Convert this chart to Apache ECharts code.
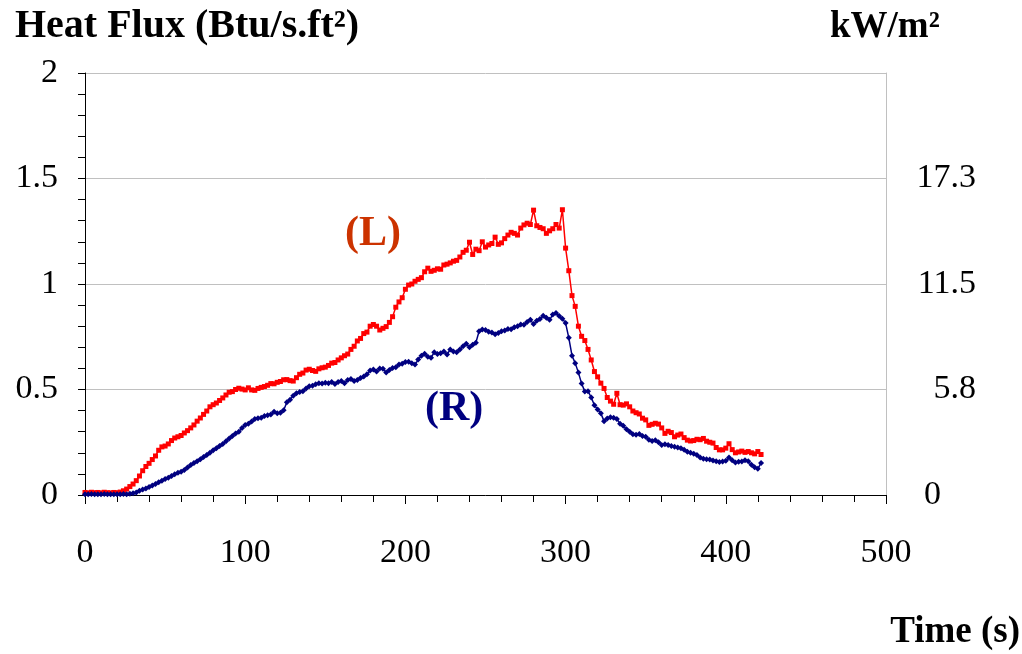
<!DOCTYPE html>
<html>
<head>
<meta charset="utf-8">
<script src="https://cdn.jsdelivr.net/npm/echarts@6.0.0/dist/echarts.min.js"></script>
<style>
html,body{margin:0;padding:0;background:#fff;}
#chart{width:1022px;height:654px;}
</style>
</head>
<body>
<div id="chart"></div>
<script>
// Time samples (s), every 2 s from 0 to 422
const timeStep = 2;
const times = Array.from({length: 212}, (_, i) => i * timeStep);

// Left-side gauge (L), Btu/s.ft²
const fluxL = [
  0.012, 0.010, 0.013, 0.011, 0.012, 0.010, 0.013, 0.011, 0.010, 0.012,
  0.011, 0.014, 0.020, 0.028, 0.040, 0.052, 0.068, 0.090, 0.115, 0.135,
  0.150, 0.168, 0.185, 0.212, 0.228, 0.232, 0.242, 0.258, 0.270, 0.276,
  0.282, 0.294, 0.305, 0.318, 0.332, 0.350, 0.365, 0.382, 0.398, 0.418,
  0.428, 0.436, 0.448, 0.460, 0.474, 0.487, 0.490, 0.500, 0.506, 0.502,
  0.498, 0.508, 0.498, 0.496, 0.505, 0.510, 0.514, 0.520, 0.528, 0.527,
  0.534, 0.538, 0.546, 0.547, 0.542, 0.540, 0.556, 0.572, 0.578, 0.592,
  0.596, 0.590, 0.586, 0.598, 0.603, 0.606, 0.614, 0.625, 0.628, 0.640,
  0.650, 0.660, 0.668, 0.690, 0.705, 0.730, 0.742, 0.765, 0.772, 0.800,
  0.808, 0.800, 0.782, 0.790, 0.798, 0.818, 0.845, 0.890, 0.915, 0.935,
  0.975, 0.995, 1.000, 1.013, 1.022, 1.030, 1.058, 1.075, 1.060, 1.065,
  1.072, 1.070, 1.090, 1.094, 1.100, 1.108, 1.112, 1.128, 1.150, 1.160,
  1.198, 1.140, 1.165, 1.158, 1.200, 1.175, 1.185, 1.192, 1.222, 1.188,
  1.195, 1.215, 1.232, 1.245, 1.240, 1.232, 1.265, 1.280, 1.288, 1.282,
  1.350, 1.276, 1.268, 1.262, 1.240, 1.252, 1.262, 1.282, 1.265, 1.352,
  1.170, 1.063, 0.945, 0.894, 0.800, 0.752, 0.732, 0.690, 0.640, 0.585,
  0.560, 0.530, 0.505, 0.462, 0.445, 0.430, 0.482, 0.428, 0.426, 0.432,
  0.418, 0.398, 0.390, 0.384, 0.364, 0.356, 0.330, 0.335, 0.340, 0.336,
  0.318, 0.292, 0.302, 0.296, 0.276, 0.284, 0.289, 0.272, 0.260, 0.256,
  0.258, 0.264, 0.262, 0.268, 0.255, 0.250, 0.246, 0.225, 0.214, 0.214,
  0.222, 0.243, 0.215, 0.200, 0.204, 0.208, 0.202, 0.206, 0.200, 0.195,
  0.206, 0.192
];

// Right-side gauge (R), Btu/s.ft²
const fluxR = [
  0.004, 0.003, 0.005, 0.004, 0.003, 0.004, 0.005, 0.003, 0.004, 0.004,
  0.003, 0.004, 0.005, 0.004, 0.006, 0.008, 0.012, 0.020, 0.026, 0.031,
  0.038, 0.045, 0.052, 0.060, 0.068, 0.076, 0.082, 0.090, 0.098, 0.106,
  0.110, 0.118, 0.130, 0.142, 0.152, 0.160, 0.170, 0.180, 0.190, 0.200,
  0.212, 0.222, 0.232, 0.242, 0.255, 0.268, 0.280, 0.292, 0.300, 0.318,
  0.332, 0.338, 0.348, 0.360, 0.364, 0.366, 0.375, 0.378, 0.382, 0.395,
  0.388, 0.390, 0.402, 0.440, 0.452, 0.470, 0.482, 0.488, 0.492, 0.505,
  0.515, 0.518, 0.525, 0.530, 0.528, 0.532, 0.530, 0.535, 0.526, 0.535,
  0.540, 0.530, 0.545, 0.550, 0.540, 0.545, 0.555, 0.562, 0.572, 0.590,
  0.595, 0.585, 0.600, 0.598, 0.580, 0.592, 0.602, 0.605, 0.618, 0.622,
  0.630, 0.632, 0.625, 0.618, 0.642, 0.660, 0.670, 0.655, 0.650, 0.677,
  0.668, 0.672, 0.680, 0.666, 0.690, 0.680, 0.677, 0.690, 0.705, 0.717,
  0.700, 0.712, 0.722, 0.776, 0.784, 0.782, 0.774, 0.770, 0.762, 0.768,
  0.776, 0.780, 0.787, 0.785, 0.795, 0.800, 0.808, 0.807, 0.820, 0.830,
  0.810, 0.826, 0.834, 0.850, 0.840, 0.830, 0.855, 0.863, 0.848, 0.835,
  0.815, 0.745, 0.660, 0.625, 0.580, 0.528, 0.490, 0.492, 0.462, 0.425,
  0.405, 0.387, 0.350, 0.362, 0.368, 0.366, 0.360, 0.338, 0.328, 0.312,
  0.300, 0.288, 0.285, 0.289, 0.280, 0.276, 0.262, 0.256, 0.260, 0.250,
  0.237, 0.240, 0.237, 0.232, 0.229, 0.225, 0.221, 0.214, 0.205, 0.200,
  0.196, 0.190, 0.178, 0.172, 0.170, 0.168, 0.163, 0.160, 0.156, 0.159,
  0.162, 0.178, 0.165, 0.154, 0.158, 0.159, 0.165, 0.160, 0.143, 0.132,
  0.124, 0.152
];

// Axis tick labels
const xTicks = [0, 100, 200, 300, 400, 500];
const leftTicks = ['0', '0.5', '1', '1.5', '2'];
const rightTicks = ['0', '5.8', '11.5', '17.3', ''];

const FONT = "'Liberation Serif', 'Times New Roman', serif";
const chart = echarts.init(document.getElementById('chart'), null, {renderer: 'canvas'});

const option = {
  animation: false,
  backgroundColor: '#ffffff',
  grid: {left: 85, right: 136, top: 73, bottom: 159, containLabel: false},
  xAxis: {
    type: 'value', min: 0, max: 500, interval: 100,
    axisLine: {show: true, onZero: false, lineStyle: {color: '#000', width: 1}},
    axisTick: {show: true, inside: false, length: 9, lineStyle: {color: '#000'}},
    minorTick: {show: true, splitNumber: 5, length: 7, lineStyle: {color: '#000'}},
    splitLine: {show: false},
    axisLabel: {
      margin: 41, color: '#000', fontFamily: FONT, fontSize: 34,
      formatter: v => xTicks.includes(v) ? String(v) : ''
    }
  },
  yAxis: [
    {
      type: 'value', min: 0, max: 2, interval: 0.5, position: 'left',
      axisLine: {show: true, lineStyle: {color: '#000', width: 1}},
      axisTick: {show: true, inside: false, length: 7, lineStyle: {color: '#000'}},
      minorTick: {show: true, splitNumber: 5, length: 7, lineStyle: {color: '#000'}},
      splitLine: {show: true, lineStyle: {color: '#c0c0c0', width: 1}},
      axisLabel: {
        margin: 27, color: '#000', fontFamily: FONT, fontSize: 34,
        formatter: v => leftTicks[Math.round(v / 0.5)]
      }
    },
    {
      type: 'value', min: 0, max: 2, interval: 0.5, position: 'right',
      axisLine: {show: true, lineStyle: {color: '#c0c0c0', width: 1}},
      axisTick: {show: false},
      splitLine: {show: false},
      axisLabel: {
        margin: 90, align: 'right', color: '#000', fontFamily: FONT, fontSize: 34,
        formatter: v => {
          const s = rightTicks[Math.round(v / 0.5)];
          return s === '0' ? '{z|0}' : s;
        },
        rich: {z: {fontFamily: FONT, fontSize: 34, color: '#000', padding: [0, 35, 0, 0]}}
      }
    }
  ],
  graphic: [
    {type: 'text', left: 15, top: 7, style: {text: 'Heat Flux (Btu/s.ft²)', font: "bold 40px " + FONT, fill: '#000'}},
    {type: 'text', left: 830, top: 9, style: {text: 'kW/m²', font: "bold 37px " + FONT, fill: '#000'}},
    {type: 'text', right: 2, top: 614, style: {text: 'Time (s)', font: "bold 37px " + FONT, fill: '#000'}},
    {type: 'text', left: 345, top: 213, style: {text: '(L)', font: "bold 42px " + FONT, fill: '#cc3300'}},
    {type: 'text', left: 425, top: 388, style: {text: '(R)', font: "bold 42px " + FONT, fill: '#000080'}}
  ],
  series: [
    {
      name: 'L', type: 'line', yAxisIndex: 0,
      data: times.map((t, i) => [t, fluxL[i]]),
      symbol: 'rect', symbolSize: 5, showAllSymbol: true,
      lineStyle: {color: '#ff0000', width: 1.5},
      itemStyle: {color: '#ff0000'},
      z: 3
    },
    {
      name: 'R', type: 'line', yAxisIndex: 0,
      data: times.map((t, i) => [t, fluxR[i]]),
      symbol: 'diamond', symbolSize: 6, showAllSymbol: true,
      lineStyle: {color: '#000080', width: 1.5},
      itemStyle: {color: '#000080'},
      z: 4
    }
  ]
};
chart.setOption(option);
</script>
</body>
</html>
